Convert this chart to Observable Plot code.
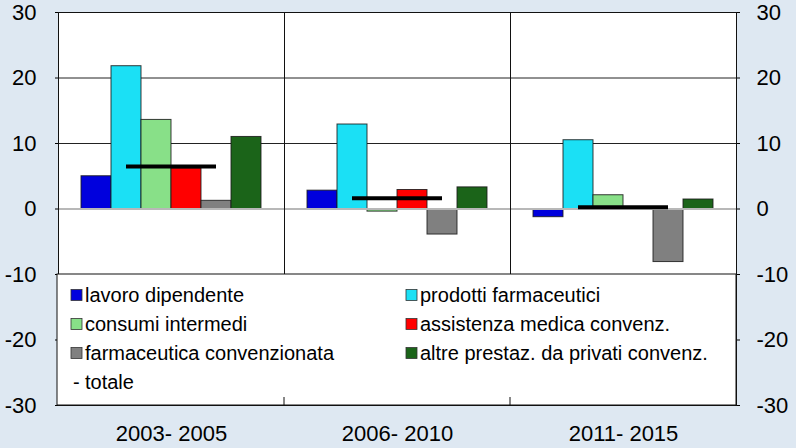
<!DOCTYPE html>
<html>
<head>
<meta charset="utf-8">
<script src="https://cdn.jsdelivr.net/npm/d3@7"></script>
<script src="https://cdn.jsdelivr.net/npm/@observablehq/plot@0.6"></script>
<style>
  html, body { margin: 0; padding: 0; background: #dee8f2; }
  #chart { width: 796px; height: 448px; }
</style>
</head>
<body>
<div id="chart"></div>
<script>
const periods = ["2003- 2005", "2006- 2010", "2011- 2015"];
const series = [
  "lavoro dipendente",
  "prodotti farmaceutici",
  "consumi intermedi",
  "assistenza medica convenz.",
  "farmaceutica convenzionata",
  "altre prestaz. da privati convenz."
];
const colors = ["#0000dd", "#1be0f5", "#88e088", "#ff0000", "#808080", "#1b6419"];
const lavoro = [5.0, 2.8, -1.25];
const prodotti = [21.8, 12.9, 10.5];
const consumi = [13.6, -0.4, 2.1];
const assistenza = [6.2, 2.9, 0.2];
const farmaceutica = [1.25, -3.9, -8.1];
const altre = [11.0, 3.3, 1.45];
const totale = [6.5, 1.65, 0.25];
const totaleLabel = "totale";
const yTicks = [-30, -20, -10, 0, 10, 20, 30];

const seriesValues = [lavoro, prodotti, consumi, assistenza, farmaceutica, altre];
const rows = [];
periods.forEach((p, i) => series.forEach((s, j) => rows.push({period: p, series: s, value: seriesValues[j][i]})));
const totalRows = periods.map((p, i) => ({period: p, value: totale[i]}));

const W = 796, H = 448, mL = 57, mR = 60, mT = 12, mB = 43;
const font = "'Liberation Sans', Arial, Helvetica, sans-serif";

const plot = Plot.plot({
  width: W, height: H,
  marginLeft: mL, marginRight: mR, marginTop: mT, marginBottom: mB,
  style: {fontFamily: font, background: "transparent", color: "#000", overflow: "visible"},
  fx: {domain: periods, padding: 0, label: null},
  x: {domain: series, paddingInner: 0, paddingOuter: 0.75, axis: null},
  y: {domain: [-30, 30], label: null},
  color: {domain: series, range: colors},
  marks: [
    Plot.frame({fill: "white"}),
    Plot.ruleY([10, 20], {stroke: "#222", strokeWidth: 1}),
    Plot.barY(rows, {fx: "period", x: "series", y: "value", fill: "series", stroke: "#1a1a1a", strokeWidth: 1, strokeOpacity: 0.85}),
    Plot.ruleY([0], {stroke: "#b8b8b8", strokeWidth: 2}),
    Plot.tickY(totalRows, {fx: "period", y: "value", stroke: "#000", strokeWidth: 4, insetLeft: 68, insetRight: 68}),
    Plot.frame({stroke: "#111", strokeWidth: 1}),
    Plot.axisY(yTicks, {anchor: "left", tickSize: 3, tickPadding: 19, fontSize: 22, tickFormat: d => String(d), label: null}),
    Plot.axisY(yTicks, {anchor: "right", tickSize: 3, tickPadding: 17, fontSize: 22, tickFormat: d => String(d), label: null}),
    Plot.axisFx({anchor: "bottom", tickSize: 0, tickPadding: 20, fontSize: 22, label: null})
  ]
});
document.getElementById("chart").appendChild(plot);

// Legend box drawn inside the lower part of the plot area
const svg = d3.select(plot.tagName.toLowerCase() === "svg" ? plot : plot.querySelector("svg"));
const y = plot.scale("y");
const fx = plot.scale("fx");
const yTop = y.apply(-10), yBot = y.apply(-30);
const x0 = mL, x1 = W - mR;
const g = svg.append("g").attr("font-family", font).attr("font-size", 20).attr("text-anchor", "start");
g.append("rect").attr("x", x0).attr("y", yTop).attr("width", x1 - x0).attr("height", yBot - yTop)
  .attr("fill", "white").attr("stroke", "#111").attr("stroke-width", 1);
periods.slice(1).forEach(p => {
  const bx = fx.apply(p);
  g.append("line").attr("x1", bx).attr("x2", bx).attr("y1", yBot - 8).attr("y2", yBot).attr("stroke", "#111");
});
const colX = [x0 + 14, x0 + 349];
const rowY0 = yTop + 21, rowStep = 29;
series.forEach((s, i) => {
  const cx = colX[i % 2], cy = rowY0 + Math.floor(i / 2) * rowStep;
  g.append("rect").attr("x", cx).attr("y", cy - 5.5).attr("width", 11).attr("height", 11)
    .attr("fill", colors[i]).attr("stroke", "#333").attr("stroke-width", 0.8);
  g.append("text").attr("x", cx + 14).attr("y", cy).attr("dy", "0.36em").attr("text-anchor", "start").text(s);
});
const ty = rowY0 + 3 * rowStep;
g.append("text").attr("x", colX[0] + 2).attr("y", ty).attr("dy", "0.36em").attr("text-anchor", "start").text("-");
g.append("text").attr("x", colX[0] + 14).attr("y", ty).attr("dy", "0.36em").attr("text-anchor", "start").text(totaleLabel);
</script>
</body>
</html>
